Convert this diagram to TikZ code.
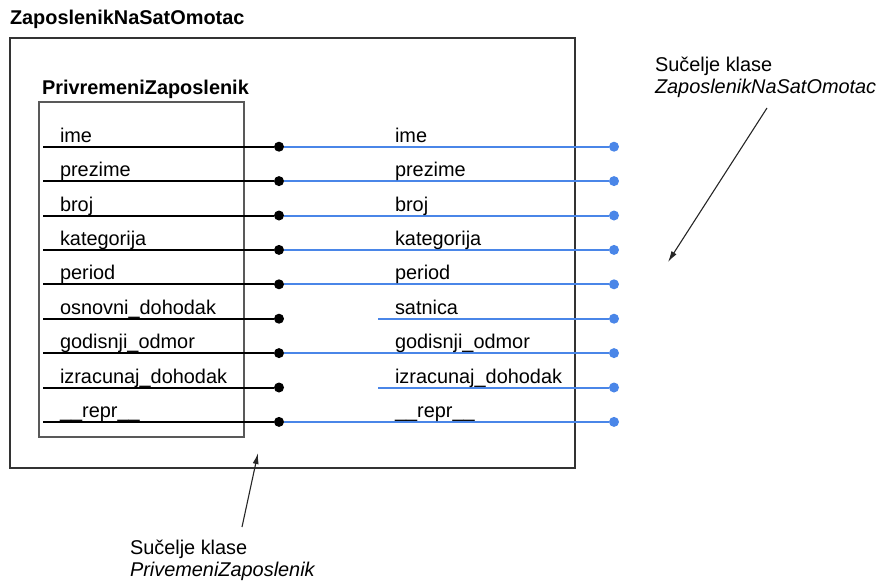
\documentclass[tikz,border=0pt]{standalone}
\usepackage{fontspec}
\setmainfont{Liberation Sans}
\usetikzlibrary{arrows.meta}
\definecolor{ublue}{HTML}{4A86E8}
\begin{document}
\begin{tikzpicture}[x=1pt,y=-1pt,
  every node/.style={inner sep=0pt, outer sep=0pt},
  txt/.style={anchor=base west, font=\fontsize{19.9}{23}\selectfont},
  ttl/.style={anchor=base west, font=\fontsize{19.9}{23}\selectfont\bfseries},
  itl/.style={anchor=base west, font=\fontsize{19.9}{23}\selectfont\itshape},
  frame/.style={draw=black!80, line width=1.2pt, anchor=north west},
  innerframe/.style={draw=black!65, line width=1.2pt, anchor=north west},
  blk/.style={draw=black, line width=2pt},
  blu/.style={draw=ublue, line width=2pt},
  bdot/.style={circle, fill=black, minimum size=10pt},
  udot/.style={circle, fill=ublue, minimum size=10pt},
  pointer/.style={draw=black!85, line width=1.1pt, -{Latex[length=11pt,width=6pt]}}
]
\useasboundingbox (0,0) rectangle (880,587);

% class frames and titles
\node[frame, minimum width=565pt, minimum height=430pt] (outer) at (10,38) {};
\node[ttl] (outertitle) at (10,24) {ZaposlenikNaSatOmotac};
\node[innerframe, minimum width=205pt, minimum height=335pt] (inner) at (39,102) {};
\node[ttl] (innertitle) at (42,94) {PrivremeniZaposlenik};

% member rows: wrapped member (black) and wrapper member (blue)
\foreach \i/\l/\r/\full in {0/ime/ime/1, 1/prezime/prezime/1, 2/broj/broj/1,
    3/kategorija/kategorija/1, 4/period/period/1,
    5/osnovni\_dohodak/satnica/0, 6/godisnji\_odmor/godisnji\_odmor/1,
    7/izracunaj\_dohodak/izracunaj\_dohodak/0, 8/\_\_repr\_\_/\_\_repr\_\_/1}{
  \pgfmathsetmacro\y{146.7+34.4*\i}
  \coordinate (l\i) at (43,\y);
  \node[bdot] (b\i) at (279,\y) {};
  \node[udot] (u\i) at (614,\y) {};
  \draw[blk] (l\i) -- (b\i);
  \ifnum\full=1
    \draw[blu] (b\i) -- (u\i);
  \else
    \coordinate (s\i) at (378,\y);
    \draw[blu] (s\i) -- (u\i);
  \fi
  \node[txt] (lt\i) at (60,{\y-4.5}) {\l};
  \node[txt] (rt\i) at (395,{\y-4.5}) {\r};
}

% interface callouts
\node[txt] (c1a) at (655,71) {Sučelje klase};
\node[itl] (c1b) at (655,93) {ZaposlenikNaSatOmotac};
\coordinate (p1s) at (767,108);
\coordinate (p1e) at (668,262);
\draw[pointer] (p1s) -- (p1e);

\node[txt] (c2a) at (130,554) {Sučelje klase};
\node[itl] (c2b) at (130,576) {PrivemeniZaposlenik};
\coordinate (p2s) at (242,527);
\coordinate (p2e) at (258,453);
\draw[pointer] (p2s) -- (p2e);
\end{tikzpicture}
\end{document}
